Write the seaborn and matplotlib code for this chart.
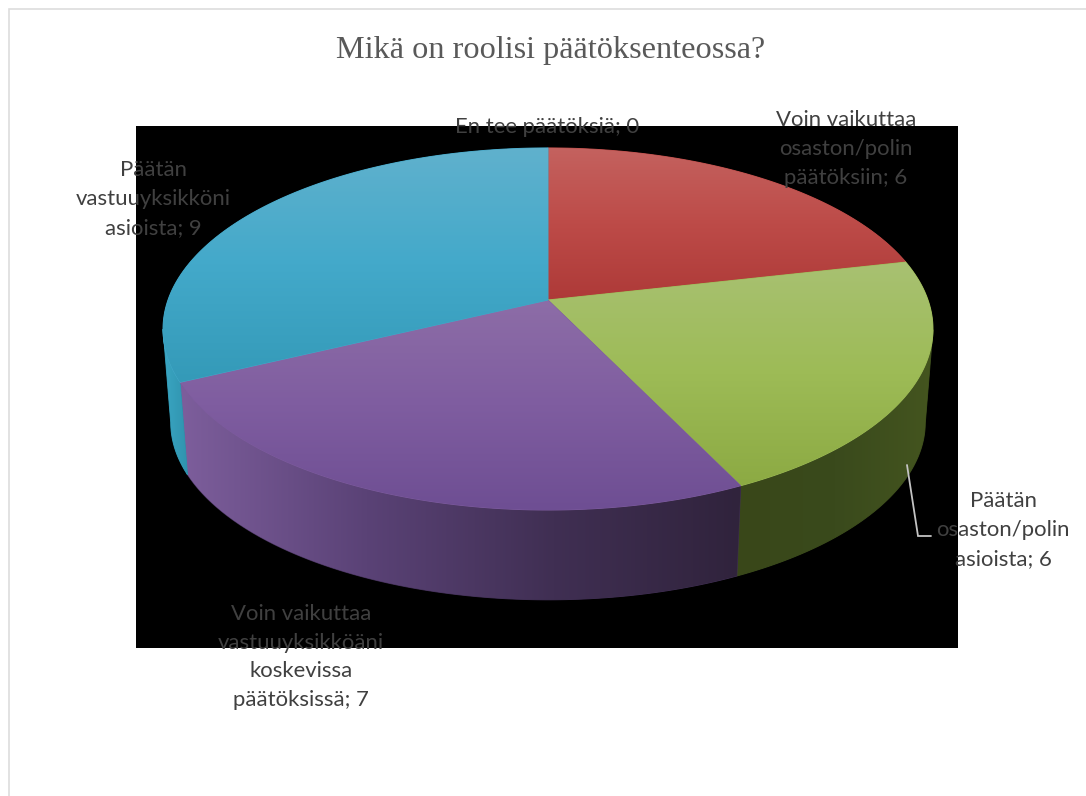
import numpy as np
import matplotlib
matplotlib.use("Agg")
import matplotlib.pyplot as plt
from matplotlib.patches import PathPatch, Rectangle
from matplotlib.path import Path
import seaborn as sns

# Survey answers, in drawing order clockwise from twelve o'clock
categories = [
    "En tee päätöksiä",
    "Voin vaikuttaa\nosaston/polin\npäätöksiin",
    "Päätän\nosaston/polin\nasioista",
    "Voin vaikuttaa\nvastuuyksikköäni\nkoskevissa\npäätöksissä",
    "Päätän\nvastuuyksikköni\nasioista",
]
counts = [0, 6, 6, 7, 9]
title = "Mikä on roolisi päätöksenteossa?"

# Colour stops: top face (top to bottom) and side wall (left to right)
top_stops = [
    ["#5FB0CC", "#5FB0CC"],
    ["#C4625F", "#BD4B48", "#AE3A38"],
    ["#A8C172", "#9DBB56", "#8CAA43"],
    ["#8D6DA7", "#7F5DA0", "#6E4E93"],
    ["#60B1CD", "#43A9CA", "#349AB8"],
]
wall_stops = [
    ["#000000", "#000000"],
    ["#3A1C1C", "#3A1C1C"],
    ["#394719", "#3A4A1C", "#44551F"],
    ["#7D5E9C", "#5A4276", "#402F53", "#30233C"],
    ["#3BA6C3", "#2F93AE"],
]

# Label anchor centres in pixels
label_xy = [(547, 127), (846, 149), (1003, 530), (301, 657), (153, 199)]

sns.set_theme(style="white")
plt.rcParams["font.family"] = ["Lato", "DejaVu Sans"]

W, H = 1086, 796
fig = plt.figure(figsize=(W / 100, H / 100), dpi=100, facecolor="white")
ax = fig.add_axes([0, 0, 1, 1])

# The pie supplies the slice angles; its flat wedges are replaced by a tilted disc
wedges, _ = ax.pie(counts, startangle=90, counterclock=False)
spans = [(w.theta1, w.theta2) for w in wedges]
for w in wedges:
    w.remove()
ax.set_aspect("auto")

# Perspective projection of the unit disc onto the page
CX, CY, RX, RY, PERSP = 548.0, 300.0, 380.0, 176.4, 0.16
FLOOR_SCALE, FLOOR_Y = 0.98, 394.0


def project(theta, scale=1.0, cy=CY):
    u, v = np.cos(theta), np.sin(theta)
    w = 1 + PERSP * v
    return CX + scale * RX * u / w, cy - scale * RY * v / w


def shade(xy, stops, vertical, zorder):
    """Fill a polygon with a linear gradient through the given colours."""
    mid = stops[len(stops) // 2]
    # A solid underlay closes the antialiasing seam between neighbouring faces
    ax.add_patch(PathPatch(Path(xy), facecolor=mid, edgecolor=mid, lw=0.7, zorder=zorder))
    patch = PathPatch(Path(xy), facecolor="none", edgecolor="none", zorder=zorder)
    ax.add_patch(patch)
    cmap = sns.blend_palette(stops, as_cmap=True)
    ramp = np.linspace(0, 1, 256)
    data = ramp[:, None] if vertical else ramp[None, :]
    x0, y0 = xy.min(axis=0)
    x1, y1 = xy.max(axis=0)
    img = ax.imshow(data, cmap=cmap, vmin=0, vmax=1, origin="upper",
                    extent=(x0, x1, y1, y0), aspect="auto",
                    interpolation="bilinear", zorder=zorder)
    img.set_clip_path(patch)


ax.add_patch(Rectangle((136, 126), 822, 522, facecolor="black", edgecolor="none", zorder=1))

# Side walls, only the part of the rim facing the viewer
for (t1, t2), stops in zip(spans, wall_stops):
    if t2 - t1 < 1e-6:
        continue
    angles = np.radians(np.linspace(t1, t2, 240))
    angles = angles[np.sin(angles) < -PERSP]
    if len(angles) < 2:
        continue
    tx, ty = project(angles)
    bx, by = project(angles, FLOOR_SCALE, FLOOR_Y)
    poly = np.column_stack([np.r_[tx, bx[::-1]], np.r_[ty, by[::-1]]])
    shade(np.vstack([poly, poly[:1]]), stops, False, 2)

# Top faces
for (t1, t2), stops in zip(spans, top_stops):
    if t2 - t1 < 1e-6:
        continue
    angles = np.radians(np.linspace(t1, t2, 300))
    tx, ty = project(angles)
    poly = np.column_stack([np.r_[CX, tx, CX], np.r_[CY, ty, CY]])
    shade(poly, stops, True, 3)

# Leader line of the label that sits outside the disc
ax.plot([907, 918, 931], [465, 536, 536], color="#C4C4C4", lw=1.3, zorder=4,
        solid_joinstyle="miter")

# Data labels
for cat, n, (x, y) in zip(categories, counts, label_xy):
    ax.text(x, y, f"{cat}; {n}", ha="center", va="center", multialignment="center",
            fontsize=15.9, color="#404040", linespacing=1.56, zorder=5)

ax.text(550.5, 50.5, title, ha="center", va="center", fontsize=23.2,
        family=["Liberation Serif"], color="#595959", zorder=5)

# Chart frame, visible along the top and left edges
ax.plot([8.5, 8.5, W], [H, 8.5, 8.5], color="#DDDDDD", lw=1.2, zorder=0,
        solid_joinstyle="miter")

ax.set_xlim(0, W)
ax.set_ylim(H, 0)
ax.axis("off")
fig.savefig("out.png", dpi=100, facecolor="white")
